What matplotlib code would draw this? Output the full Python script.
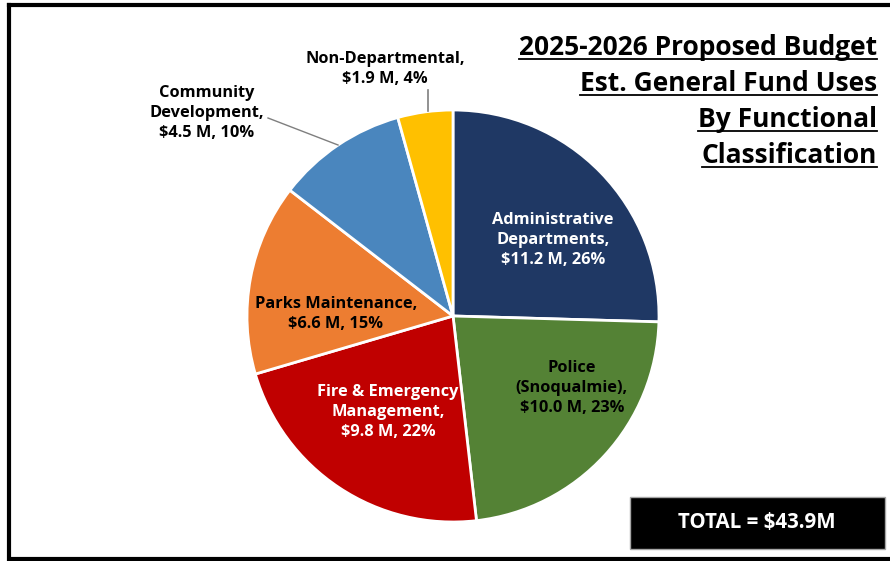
import matplotlib.pyplot as plt
from matplotlib.patches import Rectangle

plt.rcParams['font.family'] = ['Open Sans', 'DejaVu Sans']

categories = ['Administrative\nDepartments', 'Police\n(Snoqualmie)', 'Fire & Emergency\nManagement',
              'Parks Maintenance', 'Community\nDevelopment', 'Non-Departmental']
amounts = [11.2, 10.0, 9.8, 6.6, 4.5, 1.9]
percents = [26, 23, 22, 15, 10, 4]
total = 43.9
colors = ['#1F3864', '#548235', '#C00000', '#ED7D31', '#4A86BE', '#FFC000']
title_lines = ['2025-2026 Proposed Budget', 'Est. General Fund Uses',
               'By Functional', 'Classification']

W, H = 890, 561
fig = plt.figure(figsize=(W / 100, H / 100), dpi=100)
ax = fig.add_axes([0, 0, 1, 1])
ax.set_aspect('equal')

cx, cy, r = 453, H - 316, 206
ax.pie(amounts, colors=colors, startangle=90, counterclock=False,
       center=(cx, cy), radius=r, frame=True,
       wedgeprops=dict(edgecolor='white', linewidth=2))
ax.set_xlim(0, W)
ax.set_ylim(0, H)
ax.axis('off')

labels = [f'{c},\n${a:.1f} M, {p}%' for c, a, p in zip(categories, amounts, percents)]
# (x, y, text colour) for each slice label
spots = [(553, 240, 'white'), (572, 388, 'black'), (388, 412, 'white'),
         (336, 314, 'black'), (207, 113, 'black'), (385, 69, 'black')]
for lab, (x, y, c) in zip(labels, spots):
    ax.text(x, H - y, lab, ha='center', va='center', color=c, fontsize=11.8,
            fontweight='bold', linespacing=1.3)

# leader lines for the two small outside labels
ax.plot([268, 338], [H - 118, H - 145], color='#7F7F7F', lw=1)
ax.plot([428, 428], [H - 90, H - 111], color='#7F7F7F', lw=1.2)

# underlined title, right aligned
fig.canvas.draw()
renderer = fig.canvas.get_renderer()
for i, line in enumerate(title_lines):
    t = ax.text(877, H - (47 + 36 * i), line, ha='right', va='center',
                fontsize=19, fontweight='bold', color='black')
    bb = t.get_window_extent(renderer).transformed(ax.transData.inverted())
    ax.plot([bb.x0, bb.x1], [bb.y0 + 2, bb.y0 + 2], color='black', lw=1.3)

# total box
ax.add_patch(Rectangle((630, H - 549), 255, 52, facecolor='black',
                       edgecolor='#A6A6A6', lw=1))
ax.text(757, H - 523, f'TOTAL = ${total}M', ha='center', va='center',
        color='white', fontsize=14.8, fontweight='bold')

# outer frame
ax.plot([8.5, 8.5, W + 5, W + 5, 8.5], [H - 4.5, H - 558.5, H - 558.5, H - 4.5, H - 4.5],
        color='black', lw=3, solid_joinstyle='miter', clip_on=False)

fig.savefig('out.png', dpi=100)
